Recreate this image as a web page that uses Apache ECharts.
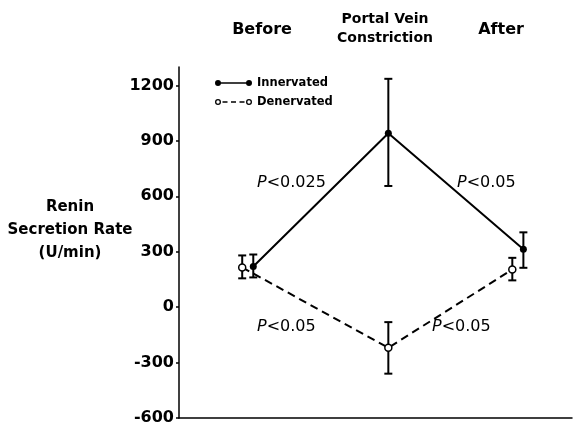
<!DOCTYPE html>
<html>
<head>
<meta charset="utf-8">
<script src="https://cdn.jsdelivr.net/npm/echarts@6/dist/echarts.min.js"></script>
<style>html,body{margin:0;padding:0;background:#fff}#c{width:577px;height:426px}</style>
</head>
<body>
<div id="c"></div>
<script>
// ---- data ----
const categories = ['Before', 'Portal Vein\nConstriction', 'After'];
const innervatedMean = [220, 941, 313];
const innervatedHigh = [285, 1236, 405];
const innervatedLow  = [161, 656, 213];
const denervatedMean = [215, -220, 204];
const denervatedHigh = [280, -81, 267];
const denervatedLow  = [156, -360, 145];
const yTickValues = [-600, -300, 0, 300, 600, 900, 1200];
const seriesNames = ['Innervated', 'Denervated'];
const pLabels = ['<0.025', '<0.05', '<0.05', '<0.05'];

// ---- rendering ----
const FONT = 'DejaVu Sans';
const denShift = [-0.082, 0, -0.082];
const innX = categories.map((c, i) => i + 1);
const denX = categories.map((c, i) => i + 1 + denShift[i]);

const innData = innervatedMean.map((v, i) => [innX[i], v]);
const denData = denervatedMean.map((v, i) => [denX[i], v]);
const errData = innervatedMean.map((v, i) => [innX[i], innervatedLow[i], innervatedHigh[i]])
  .concat(denervatedMean.map((v, i) => [denX[i], denervatedLow[i], denervatedHigh[i]]));

const innIcon = 'path://M0,3 a3,3 0 1,1 6,0 a3,3 0 1,1 -6,0 Z M31,3 a3,3 0 1,1 6,0 a3,3 0 1,1 -6,0 Z M4,2.2 H33 V3.8 H4 Z';
const denIcon = 'path://M0,3 a3,3 0 1,1 6,0 a3,3 0 1,1 -6,0 Z M1.3,3 a1.7,1.7 0 1,0 3.4,0 a1.7,1.7 0 1,0 -3.4,0 Z ' +
  'M31,3 a3,3 0 1,1 6,0 a3,3 0 1,1 -6,0 Z M32.3,3 a1.7,1.7 0 1,0 3.4,0 a1.7,1.7 0 1,0 -3.4,0 Z ' +
  'M7.5,2.3 H12.5 V3.7 H7.5 Z M16,2.3 H21 V3.7 H16 Z M24.5,2.3 H29.5 V3.7 H24.5 Z';

const chart = echarts.init(document.getElementById('c'), null, {renderer: 'canvas'});

function pText(label, x, y) {
  return {
    type: 'text', x: x, y: y,
    style: {
      text: '{p|P}' + label,
      font: '16px "' + FONT + '"',
      fill: '#000',
      verticalAlign: 'middle',
      rich: {p: {fontStyle: 'italic', fontSize: 16, fontFamily: FONT, fill: '#000'}}
    }
  };
}

chart.setOption({
  animation: false,
  backgroundColor: '#fff',
  grid: {left: 179, right: 5, top: 67, bottom: 5, containLabel: false},
  xAxis: {
    type: 'value', min: 0.45, max: 3.36,
    axisLine: {show: true, onZero: false, lineStyle: {color: '#000', width: 1.5}},
    axisTick: {show: false}, axisLabel: {show: false}, splitLine: {show: false}
  },
  yAxis: {
    type: 'value', min: -600, max: 1300,
    axisLine: {show: true, lineStyle: {color: '#000', width: 1.5}},
    axisTick: {show: true, length: 3, customValues: yTickValues, lineStyle: {color: '#000', width: 1.5}},
    axisLabel: {
      customValues: yTickValues, margin: 5, color: '#000',
      fontFamily: FONT, fontWeight: 'bold', fontSize: 16,
      formatter: function (v) { return String(v); }
    },
    splitLine: {show: false}
  },
  legend: {
    orient: 'vertical', left: 210, top: 72,
    itemWidth: 37, itemHeight: 6, itemGap: 7, itemTextGap: 6,
    textStyle: {fontFamily: FONT, fontWeight: 'bold', fontSize: 11.5, color: '#000', lineHeight: 12},
    data: [
      {name: seriesNames[0], icon: innIcon, itemStyle: {color: '#000', borderWidth: 0}},
      {name: seriesNames[1], icon: denIcon, itemStyle: {color: '#000', borderWidth: 0}}
    ]
  },
  graphic: [
    {type: 'text', x: 262, y: 30, style: {text: categories[0], font: 'bold 16px "' + FONT + '"', fill: '#000', align: 'center', verticalAlign: 'middle'}},
    {type: 'text', x: 385, y: 28.5, style: {text: categories[1], font: 'bold 14px "' + FONT + '"', fill: '#000', align: 'center', verticalAlign: 'middle', lineHeight: 19}},
    {type: 'text', x: 501, y: 30, style: {text: categories[2], font: 'bold 16px "' + FONT + '"', fill: '#000', align: 'center', verticalAlign: 'middle'}},
    {type: 'text', x: 70, y: 230, style: {text: 'Renin\nSecretion Rate\n(U/min)', font: 'bold 15px "' + FONT + '"', fill: '#000', align: 'center', verticalAlign: 'middle', lineHeight: 23}},
    pText(pLabels[0], 257, 183),
    pText(pLabels[1], 457, 183),
    pText(pLabels[2], 257, 327),
    pText(pLabels[3], 432, 327)
  ],
  series: [
    {
      type: 'custom', name: 'err', silent: true, z: 1,
      data: errData,
      renderItem: function (params, api) {
        const x = api.value(0);
        const lo = api.coord([x, api.value(1)]);
        const hi = api.coord([x, api.value(2)]);
        const cw = 4;
        const st = {stroke: '#000', lineWidth: 2};
        return {type: 'group', children: [
          {type: 'line', shape: {x1: lo[0], y1: lo[1], x2: hi[0], y2: hi[1]}, style: st},
          {type: 'line', shape: {x1: lo[0] - cw, y1: lo[1], x2: lo[0] + cw, y2: lo[1]}, style: st},
          {type: 'line', shape: {x1: hi[0] - cw, y1: hi[1], x2: hi[0] + cw, y2: hi[1]}, style: st}
        ]};
      }
    },
    {
      type: 'line', name: seriesNames[0], data: innData, z: 3,
      symbol: 'circle', symbolSize: 7,
      itemStyle: {color: '#000'},
      lineStyle: {color: '#000', width: 2}
    },
    {
      type: 'line', name: seriesNames[1], data: denData, z: 3,
      symbol: 'circle', symbolSize: 7,
      itemStyle: {color: '#fff', borderColor: '#000', borderWidth: 1.5},
      lineStyle: {color: '#000', width: 2, type: [8, 5]}
    }
  ]
});
</script>
</body>
</html>
